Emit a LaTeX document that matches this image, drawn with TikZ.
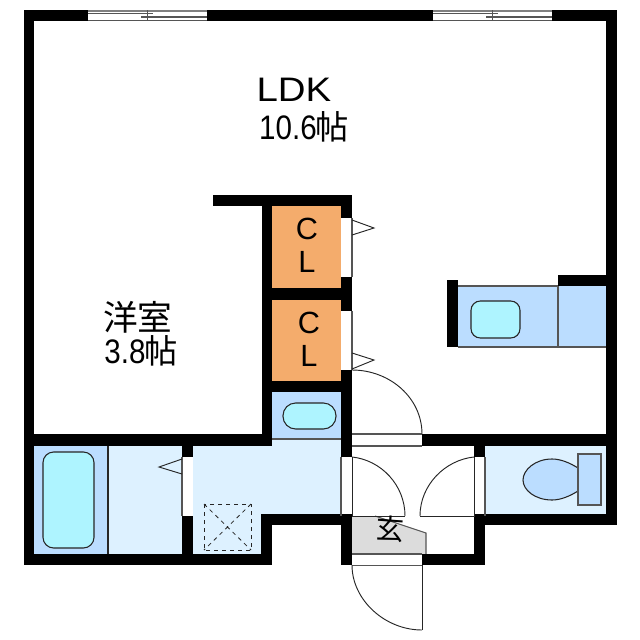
\documentclass[tikz,border=0pt]{standalone}
\usepackage{fontspec}
\setmainfont{Liberation Sans}
\newfontfamily\cjk{Noto Sans CJK JP}
\definecolor{lightroom}{HTML}{DDF1FF}
\definecolor{bluefix}{HTML}{BBDDFF}
\definecolor{aquafix}{HTML}{AEF4FF}
\definecolor{closetc}{HTML}{F4AC6C}
\definecolor{genkan}{HTML}{DCDCDC}
\definecolor{edgegray}{HTML}{555555}
\tikzset{
  wall/.style={fill=black,draw=none},
  fix/.style={draw=black!85,line width=0.8pt},
  thin line/.style={draw=edgegray,line width=0.8pt},
  door/.style={draw=black!85,line width=0.7pt},
  lbl/.style={inner sep=0pt,text=black,align=center},
}
\begin{document}
\begin{tikzpicture}[x=0.75pt,y=-0.75pt]
\useasboundingbox (0,0) rectangle (640,640);
\fill[white] (0,0) rectangle (640,640);
% room fills
\fill[closetc] (272,206) rectangle (341,288);
\fill[closetc] (272,300) rectangle (341,381);
\fill[bluefix] (272,392) rectangle (341,439);
\fill[lightroom] (272,439) rectangle (341,446);
\fill[bluefix] (33,446) rectangle (108,554);
\fill[lightroom] (108,446) rectangle (182,554);
\fill[lightroom] (193,446) -- (341,446) -- (341,514) -- (261,514) -- (261,554) -- (193,554) -- cycle;
\fill[lightroom] (485,446) rectangle (607,514);
\fill[bluefix] (458,286) rectangle (607,347);
\fill[genkan] (352,516) -- (375,516) -- (426,533) -- (426,554) -- (352,554) -- cycle;
\draw[thin line] (375,516) -- (426,533) -- (426,554);
% fixture lines
\draw[fix] (108,446) -- (108,554);
\draw[thin line] (272,439) -- (341,439);
\draw[thin line] (458,286) -- (558,286);
\draw[thin line] (458,347) -- (606,347);
\draw[thin line] (558,286) -- (558,347);
% tubs and sinks
\draw[fix,fill=aquafix,rounded corners=8pt] (43,452) rectangle (94,548);
\draw[fix,fill=aquafix,rounded corners=9.5pt] (283,403) rectangle (336,429);
\draw[fix,fill=aquafix,rounded corners=7pt] (471,301) rectangle (520,338);
% toilet
\draw[fix,fill=bluefix] (578,468) .. controls (570,463) and (561,459) .. (552,459)
  .. controls (535,459) and (523,470) .. (523,480)
  .. controls (523,490) and (535,500) .. (552,500)
  .. controls (561,500) and (570,496) .. (578,491) -- cycle;
\draw[thin line,fill=bluefix] (578,454) rectangle (601,505);
% shaft
\draw[black!85,dashed,line width=0.7pt] (204,504) rectangle (251,550);
\draw[black!85,dashed,line width=0.6pt] (204,504) -- (251,550) (251,504) -- (204,550);
% walls
\fill[wall] (24,10) rectangle (617,21);
\fill[wall] (24,10) rectangle (34,565);
\fill[wall] (606,10) rectangle (617,525);
\fill[wall] (24,434) rectangle (272,446);
\fill[wall] (24,554) rectangle (272,565);
\fill[wall] (182,446) rectangle (193,457);
\fill[wall] (182,516) rectangle (193,554);
\fill[wall] (262,195) rectangle (272,446);
\fill[wall] (213,195) rectangle (352,206);
\fill[wall] (341,195) rectangle (352,218);
\fill[wall] (272,288) rectangle (341,300);
\fill[wall] (341,277) rectangle (352,311);
\fill[wall] (272,381) rectangle (341,392);
\fill[wall] (341,370) rectangle (352,457);
\fill[wall] (341,516) rectangle (352,565);
\fill[wall] (261,514) rectangle (272,565);
\fill[wall] (261,514) rectangle (352,525);
\fill[wall] (422,434) rectangle (617,446);
\fill[wall] (474,446) rectangle (485,457);
\fill[wall] (474,516) rectangle (485,565);
\fill[wall] (422,554) rectangle (485,565);
\fill[wall] (474,514) rectangle (617,525);
\fill[wall] (447,280) rectangle (458,347);
\fill[wall] (558,275) rectangle (607,286);
% windows
\fill[white] (88,10) rectangle (207,21);
\fill[white] (433,10) rectangle (552,21);
\draw[draw=gray,line width=1.5pt] (88,10.5) -- (207,10.5) (433,10.5) -- (552,10.5);
\draw[thin line] (88,20.5) -- (207,20.5) (433,20.5) -- (552,20.5);
\draw[thin line] (88,13.5) -- (153,13.5) (141,17) -- (207,17);
\draw[thin line] (433,13.5) -- (498,13.5) (486,17) -- (552,17);
\draw[thin line] (147.5,10) -- (147.5,21) (492.5,10) -- (492.5,21);
% openings
\draw[thin line] (352,434) -- (422,434) (352,446) -- (422,446);
\draw[thin line] (352,554) -- (422,554) (352,565) -- (422,565);
\fill[white] (352,554.5) rectangle (422,564.5);
\draw[thin line] (182,457) -- (182,516) (352,218) -- (352,277) (352,311) -- (352,370);
\draw[thin line] (341,457) -- (341,516);
\draw[thin line] (485,457) -- (485,516);
% doors
\draw[door] (352,370) .. controls (390,370) and (422,398) .. (422,434);
\draw[door] (352,457) -- (352,516) -- (405,516);
\draw[door] (352,457) .. controls (381,460) and (405,485) .. (405,516);
\draw[door] (474,457) -- (474,516) -- (420,516);
\draw[door] (474,457) .. controls (445,460) and (420,485) .. (420,516);
\draw[door] (422,565) -- (422,630);
\draw[door] (352,565) .. controls (352,600) and (385,630) .. (422,630);
% closet and bath door marks
\draw[door] (352,220) -- (374,228) -- (352,235);
\draw[door] (352,353) -- (374,360) -- (352,369);
\draw[door] (182,459) -- (159,467) -- (182,474);
% labels
\node[lbl,font=\fontsize{25.5pt}{30pt}\selectfont] (ldk) at (294,90) {\scalebox{1.13}[1]{LDK}};
\node[lbl,font=\fontsize{25.5pt}{30pt}\selectfont] (ldkarea) at (304,127) {\scalebox{0.87}[1]{10.6}\hspace{-1pt}{\cjk\fontsize{25pt}{30pt}\selectfont 帖}};
\node[lbl,font=\fontsize{26pt}{30pt}\selectfont\cjk] (yoshitsu) at (138,317) {洋室};
\node[lbl,font=\fontsize{25.5pt}{30pt}\selectfont] (yoarea) at (141,351) {\scalebox{0.87}[1]{3.8}\hspace{-1pt}{\cjk\fontsize{25pt}{30pt}\selectfont 帖}};
\node[lbl,font=\fontsize{23pt}{26pt}\selectfont] (cla) at (307,229) {C};
\node[lbl,font=\fontsize{23pt}{26pt}\selectfont] (clb) at (307,262) {L};
\node[lbl,font=\fontsize{23pt}{26pt}\selectfont] (clc) at (309,323) {C};
\node[lbl,font=\fontsize{23pt}{26pt}\selectfont] (cld) at (309,356) {L};
\node[lbl,font=\fontsize{21pt}{24pt}\selectfont\cjk,rotate=-4] (gen) at (390,529) {玄};
\end{tikzpicture}
\end{document}
